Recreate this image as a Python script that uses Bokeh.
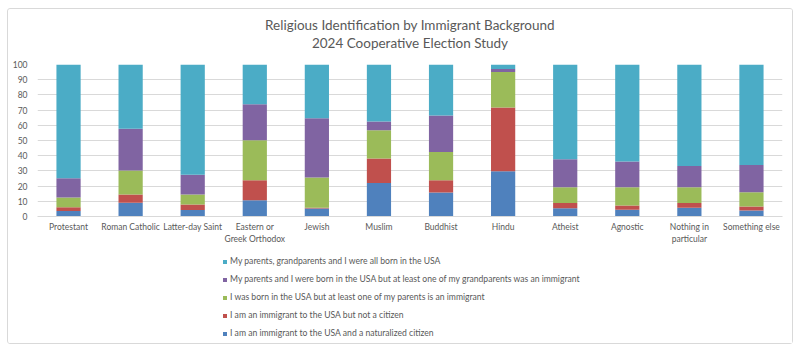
from bokeh.plotting import figure
from bokeh.layouts import column
from bokeh.models import Range1d, FixedTicker, Legend, LegendItem, Label
from bokeh.embed import file_html
from bokeh.resources import INLINE

religions = ["Protestant", "Roman Catholic", "Latter-day Saint", "Eastern or\nGreek Orthodox",
             "Jewish", "Muslim", "Buddhist", "Hindu", "Atheist", "Agnostic",
             "Nothing in\nparticular", "Something else"]

naturalized = [3.7, 9.0, 4.2, 10.7, 5.3, 22.1, 15.8, 29.8, 5.5, 4.4, 5.7, 3.9]
not_citizen = [2.4, 5.5, 3.7, 13.2, 0.4, 16.1, 8.1, 41.9, 3.3, 2.8, 3.1, 2.7]
second_gen = [6.4, 15.8, 6.6, 26.3, 20.0, 18.6, 18.6, 23.3, 10.5, 12.1, 10.5, 9.4]
third_gen = [12.7, 27.4, 12.9, 23.7, 39.0, 5.7, 23.9, 2.1, 18.4, 16.9, 14.0, 17.8]
all_born = [74.8, 42.3, 72.6, 26.1, 35.3, 37.5, 33.6, 2.9, 62.3, 63.8, 66.7, 66.2]

series_keys = ["naturalized", "not_citizen", "second_gen", "third_gen", "all_born"]
series_labels = [
    "I am an immigrant to the USA and a naturalized citizen",
    "I am an immigrant to the USA but not a citizen",
    "I was born in the USA but at least one of my parents is an immigrant",
    "My parents and I were born in the USA but at least one of my grandparents was an immigrant",
    "My parents, grandparents and I were all born in the USA",
]
colors = ["#4F81BD", "#C0504D", "#9BBB59", "#8064A2", "#4BACC6"]
y_ticks = [0, 10, 20, 30, 40, 50, 60, 70, 80, 90, 100]
title_lines = ["Religious Identification by Immigrant Background", "2024 Cooperative Election Study"]

FONT = "Lato"
TXT = "#595959"
W = 784

data = dict(religion=religions, naturalized=naturalized, not_citizen=not_citizen,
            second_gen=second_gen, third_gen=third_gen, all_born=all_born)

# ---- title strip ----
TH = 46
tf = figure(width=W, height=TH, x_range=Range1d(0, W), y_range=Range1d(TH, 0),
            output_backend="svg", toolbar_location=None, min_border=0,
            x_axis_type=None, y_axis_type=None, title=None)
tf.outline_line_color = None
tf.grid.grid_line_color = None
for txt, yy in zip(title_lines, [15, 33]):
    tf.add_layout(Label(x=W / 2, y=yy, text=txt, text_align="center", text_baseline="middle",
                        text_font=FONT, text_font_size="13.5px", text_color=TXT))

# ---- chart ----
p = figure(width=W, height=195, x_range=religions, y_range=Range1d(0, 100),
           output_backend="svg", toolbar_location=None,
           min_border_left=29, min_border_right=10, min_border_top=9, min_border_bottom=34,
           title=None)

p.vbar_stack(series_keys, x="religion", width=0.39, color=colors, source=data, line_width=0)

p.outline_line_color = None
p.xgrid.grid_line_color = None
p.ygrid.grid_line_color = "#d9d9d9"
p.ygrid.grid_line_width = 1

p.yaxis.ticker = FixedTicker(ticks=y_ticks)
p.yaxis.axis_line_color = None
p.yaxis.major_tick_line_color = None
p.yaxis.minor_tick_line_color = None
p.yaxis.major_tick_out = 0
p.yaxis.major_label_standoff = 10
p.yaxis.major_label_text_font = FONT
p.yaxis.major_label_text_font_size = "8.5px"
p.yaxis.major_label_text_color = TXT

p.xaxis.axis_line_color = "#d9d9d9"
p.xaxis.major_tick_line_color = None
p.xaxis.minor_tick_line_color = None
p.xaxis.major_tick_out = 0
p.xaxis.major_label_standoff = 5
p.xaxis.major_label_text_font = FONT
p.xaxis.major_label_text_font_size = "8.5px"
p.xaxis.major_label_text_color = TXT

# ---- legend strip (same series; bars fall outside its visible range) ----
lg = figure(width=W, height=93, x_range=religions, y_range=Range1d(1000, 2000),
            output_backend="svg", toolbar_location=None, min_border=0,
            x_axis_type=None, y_axis_type=None, title=None)
lg.outline_line_color = None
lg.grid.grid_line_color = None
lg_renderers = lg.vbar_stack(series_keys, x="religion", width=0.39, color=colors,
                             source=data, line_width=0)

items = [LegendItem(label=series_labels[i], renderers=[lg_renderers[i]]) for i in range(4, -1, -1)]
legend = Legend(items=items, location=(185, 3), orientation="vertical",
                label_text_font=FONT, label_text_font_size="8.6px", label_text_color=TXT,
                glyph_width=5, glyph_height=5, label_height=14, label_standoff=3,
                spacing=4, padding=0, margin=0, border_line_color=None,
                background_fill_alpha=0)
lg.add_layout(legend, "center")

layout = column(tf, p, lg, spacing=0)
layout.styles = {"margin-left": "7px", "margin-top": "8px", "border": "1px solid #d9d9d9",
                 "border-radius": "3px"}

open("out.html", "w").write(file_html(layout, INLINE))
